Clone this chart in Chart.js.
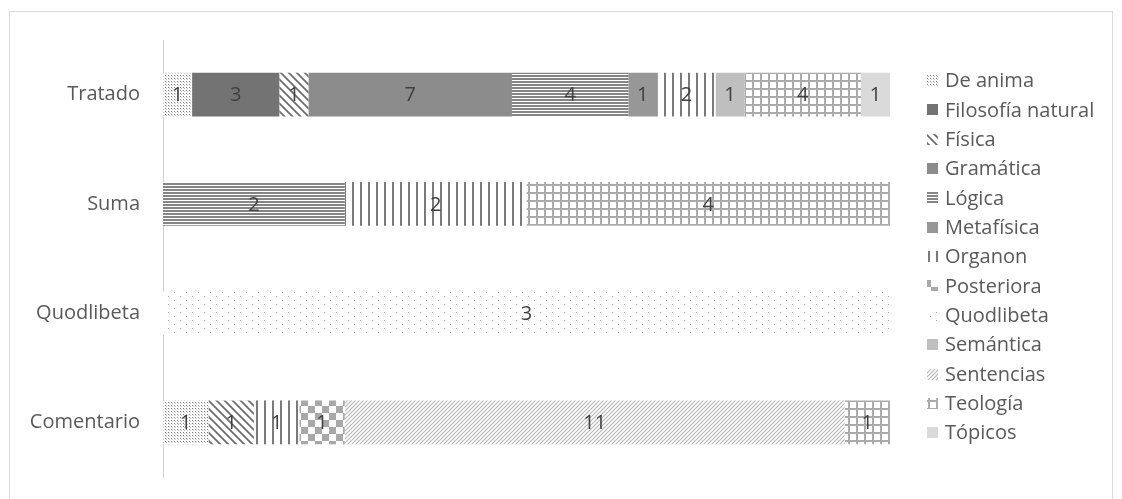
<!DOCTYPE html>
<html>
<head>
<meta charset="utf-8">
<script src="https://cdn.jsdelivr.net/npm/chart.js@4"></script>
<style>
  body { margin: 0; background: #fff; }
  #wrap { position: relative; width: 1122px; height: 499px; }
</style>
</head>
<body>
<div id="wrap"><canvas id="chart" width="1122" height="499"></canvas></div>
<script>
"use strict";

const categories = ["Tratado", "Suma", "Quodlibeta", "Comentario"];

// counts per series, in category order
const deAnima = [1, 0, 0, 1];
const filosofiaNatural = [3, 0, 0, 0];
const fisica = [1, 0, 0, 1];
const gramatica = [7, 0, 0, 0];
const logica = [4, 2, 0, 0];
const metafisica = [1, 0, 0, 0];
const organon = [2, 2, 0, 1];
const posteriora = [0, 0, 0, 1];
const quodlibeta = [0, 0, 3, 0];
const semantica = [1, 0, 0, 0];
const sentencias = [0, 0, 0, 11];
const teologia = [4, 4, 0, 1];
const topicos = [1, 0, 0, 0];

const seriesNames = ["De anima", "Filosofía natural", "Física", "Gramática", "Lógica",
  "Metafísica", "Organon", "Posteriora", "Quodlibeta", "Semántica", "Sentencias",
  "Teología", "Tópicos"];
const seriesCounts = [deAnima, filosofiaNatural, fisica, gramatica, logica, metafisica,
  organon, posteriora, quodlibeta, semantica, sentencias, teologia, topicos];

const FONT = "'Open Sans', sans-serif";

// make a repeating pattern from a small tile
function makePattern(w, h, draw) {
  const c = document.createElement("canvas");
  c.width = w;
  c.height = h;
  const g = c.getContext("2d");
  g.fillStyle = "#fff";
  g.fillRect(0, 0, w, h);
  draw(g);
  return document.getElementById("chart").getContext("2d").createPattern(c, "repeat");
}

const fills = [
  // De anima - small dots
  makePattern(3, 3, function (g) {
    g.fillStyle = "#7a7a7a";
    g.fillRect(0, 0, 1, 1);
    g.fillStyle = "#c4c4c4";
    g.fillRect(1, 1, 1, 1);
  }),
  "#737373",
  // Física - wide downward diagonal
  makePattern(8, 8, function (g) {
    g.strokeStyle = "#6e6e6e";
    g.lineWidth = 1.8;
    g.beginPath();
    g.moveTo(-2, -2); g.lineTo(10, 10);
    g.moveTo(-2, 6); g.lineTo(2, 10);
    g.moveTo(6, -2); g.lineTo(10, 2);
    g.stroke();
  }),
  "#8c8c8c",
  // Lógica - horizontal lines
  makePattern(4, 3, function (g) {
    g.fillStyle = "#858585";
    g.fillRect(0, 0, 4, 2);
  }),
  "#979797",
  // Organon - vertical lines
  makePattern(8, 4, function (g) {
    g.fillStyle = "#7a7a7a";
    g.fillRect(0, 0, 2, 4);
  }),
  // Posteriora - checkerboard
  makePattern(14, 14, function (g) {
    g.fillStyle = "#a8a8a8";
    g.fillRect(0, 0, 7, 7);
    g.fillRect(7, 7, 7, 7);
  }),
  // Quodlibeta - sparse dots
  makePattern(12, 8, function (g) {
    g.fillStyle = "#a6a6a6";
    g.fillRect(0, 0, 1, 1);
    g.fillRect(6, 4, 1, 1);
  }),
  "#bfbfbf",
  // Sentencias - light upward diagonal
  makePattern(4, 4, function (g) {
    g.strokeStyle = "#b8b8b8";
    g.lineWidth = 1.2;
    g.beginPath();
    g.moveTo(-1, 5); g.lineTo(5, -1);
    g.moveTo(-1, 1); g.lineTo(1, -1);
    g.moveTo(3, 5); g.lineTo(5, 3);
    g.stroke();
  }),
  // Teología - grid
  makePattern(8, 8, function (g) {
    g.fillStyle = "#ababab";
    g.fillRect(0, 0, 8, 2);
    g.fillRect(0, 0, 2, 8);
  }),
  "#dadada"
];

// 100% stacked: each count as a share of its category total
const totals = categories.map(function (c, i) {
  let t = 0;
  for (let s = 0; s < seriesCounts.length; s++) t += seriesCounts[s][i];
  return t;
});

const datasets = [];
for (let s = 0; s < seriesNames.length; s++) {
  datasets.push({
    label: seriesNames[s],
    data: seriesCounts[s].map(function (v, i) { return v / totals[i] * 100; }),
    counts: seriesCounts[s],
    backgroundColor: fills[s],
    borderWidth: 0,
    barPercentage: 0.4,
    categoryPercentage: 1
  });
}

// draw the count inside each segment
const countLabels = {
  id: "countLabels",
  afterDatasetsDraw(chart) {
    const ctx = chart.ctx;
    ctx.save();
    ctx.font = "20px " + FONT;
    ctx.fillStyle = "#404040";
    ctx.textAlign = "center";
    ctx.textBaseline = "middle";
    chart.data.datasets.forEach(function (ds, di) {
      const meta = chart.getDatasetMeta(di);
      meta.data.forEach(function (el, i) {
        const n = ds.counts[i];
        if (!n) return;
        ctx.fillText(String(n), (el.x + el.base) / 2, el.y + 1);
      });
    });
    ctx.restore();
  }
};

// legend on the right, one entry per line
const sideLegend = {
  id: "sideLegend",
  afterDraw(chart) {
    const ctx = chart.ctx;
    ctx.save();
    ctx.font = "20px " + FONT;
    ctx.textBaseline = "middle";
    ctx.textAlign = "left";
    chart.data.datasets.forEach(function (ds, i) {
      const y = 80.5 + i * 29.35;
      ctx.fillStyle = ds.backgroundColor;
      ctx.fillRect(927, Math.round(y - 5.5), 11, 11);
      ctx.fillStyle = "#595959";
      ctx.fillText(ds.label, 945, y + 1);
    });
    ctx.restore();
  }
};

const frame = {
  id: "frame",
  beforeDraw(chart) {
    const ctx = chart.ctx;
    ctx.save();
    ctx.fillStyle = "#fff";
    ctx.fillRect(0, 0, chart.width, chart.height);
    ctx.strokeStyle = "#d9d9d9";
    ctx.lineWidth = 1;
    ctx.strokeRect(9.5, 11.5, 1103, 520);
    ctx.restore();
  }
};

const config = {
  type: "bar",
  data: { labels: categories, datasets: datasets },
  options: {
    indexAxis: "y",
    responsive: false,
    animation: false,
    layout: { padding: { left: 0, top: 40, right: 232, bottom: 22 } },
    plugins: {
      legend: { display: false },
      tooltip: { enabled: false }
    },
    scales: {
      x: { stacked: true, min: 0, max: 100, display: false },
      y: {
        stacked: true,
        grid: { display: false, drawTicks: false },
        border: { display: true, color: "#d0d0d0", width: 1 },
        ticks: { color: "#595959", font: { family: FONT, size: 20 }, padding: 23 },
        afterFit(scale) {
          scale.width = 163;
          scale.paddingTop = 0;
          scale.paddingBottom = 0;
        }
      }
    }
  },
  plugins: [frame, countLabels, sideLegend]
};

new Chart(document.getElementById("chart"), config);
</script>
</body>
</html>
